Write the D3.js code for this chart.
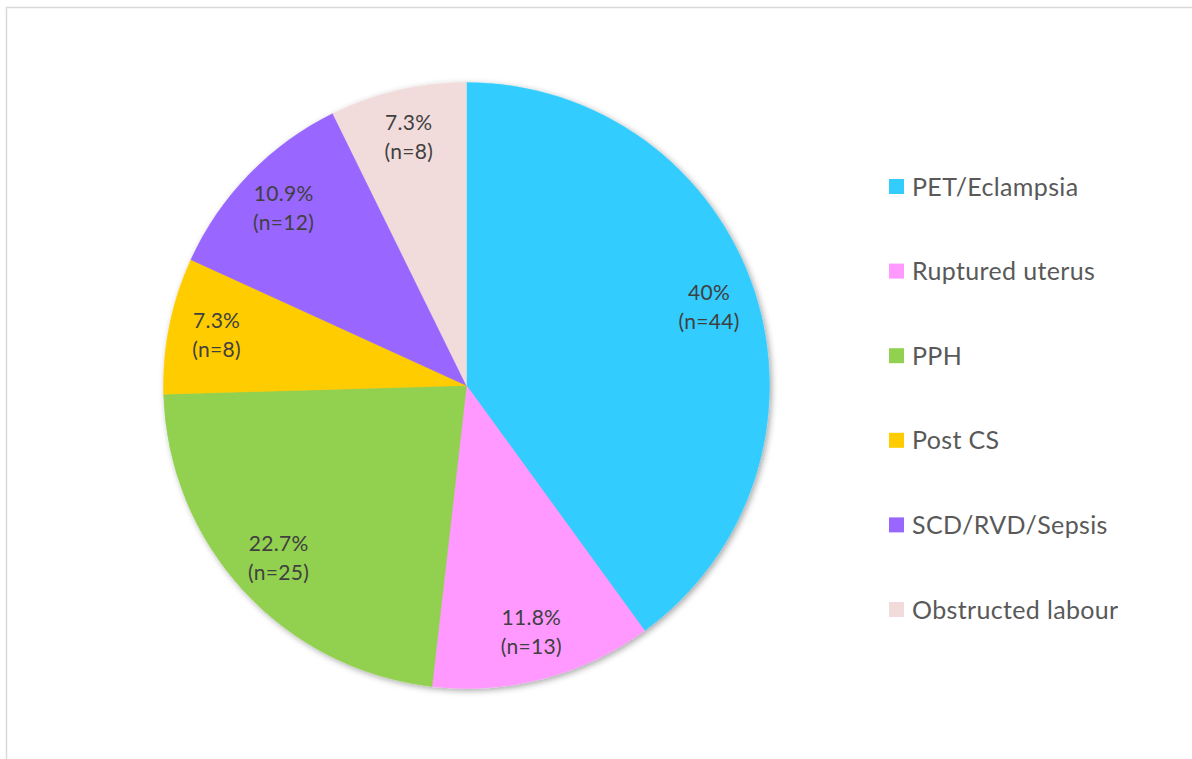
<!DOCTYPE html>
<html>
<head>
<meta charset="utf-8">
<script src="https://cdn.jsdelivr.net/npm/d3@7"></script>
<style>
  html, body { margin: 0; padding: 0; background: #fff; }
  svg { display: block; }
  text { font-family: Lato, "Open Sans", sans-serif; }
</style>
</head>
<body>
<svg width="1192" height="759"></svg>
<script>
// Causes of maternal death
var categories = ['PET/Eclampsia', 'Ruptured uterus', 'PPH', 'Post CS', 'SCD/RVD/Sepsis', 'Obstructed labour'];
var counts = [44, 13, 25, 8, 12, 8];
var percentLabels = ['40%', '11.8%', '22.7%', '7.3%', '10.9%', '7.3%'];
var colors = ['#33CCFF', '#FF99FF', '#92D050', '#FFCC00', '#9966FF', '#F2DCDB'];

var svg = d3.select('svg');
var svgWidth = +svg.attr('width');
var svgHeight = +svg.attr('height');

// chart frame (right and bottom edges fall outside the picture)
svg.append('rect')
    .attr('x', 6.5).attr('y', 7.5)
    .attr('width', svgWidth + 10).attr('height', svgHeight + 10)
    .attr('fill', '#fff')
    .attr('stroke', '#d9d9d9')
    .attr('stroke-width', 1.5);

// soft shadow for the pie
var defs = svg.append('defs');
var filt = defs.append('filter').attr('id', 'shadow')
    .attr('x', '-10%').attr('y', '-10%').attr('width', '120%').attr('height', '120%');
filt.append('feDropShadow')
    .attr('dx', 2).attr('dy', 2).attr('stdDeviation', 3)
    .attr('flood-color', '#000').attr('flood-opacity', 0.35);

var cx = 466.5, cy = 385.5, radius = 303;

var pieG = svg.append('g')
    .attr('transform', 'translate(' + [cx, cy] + ')');

var pie = d3.pie().sort(null).value(function(d) { return d; });
var arcs = pie(counts);

var arc = d3.arc().innerRadius(0).outerRadius(radius);
var labelArc = d3.arc().innerRadius(255).outerRadius(255);

var slices = pieG.append('g').attr('filter', 'url(#shadow)');
slices.selectAll('path')
    .data(arcs)
    .enter()
    .append('path')
    .attr('d', arc)
    .attr('fill', function(d, i) { return colors[i]; })
    .attr('stroke', function(d, i) { return colors[i]; })
    .attr('stroke-width', 0.5);

var labels = pieG.selectAll('.lbl')
    .data(arcs)
    .enter()
    .append('text')
    .attr('class', 'lbl')
    .attr('transform', function(d) { return 'translate(' + labelArc.centroid(d) + ')'; })
    .attr('text-anchor', 'middle')
    .attr('fill', '#404040')
    .style('font-size', '21px')
    .style('letter-spacing', '0.3px');

labels.append('tspan')
    .attr('x', 0).attr('y', -7)
    .text(function(d, i) { return percentLabels[i]; });
labels.append('tspan')
    .attr('x', 0).attr('y', 22)
    .text(function(d, i) { return '(n=' + counts[i] + ')'; });

// legend
var legendScale = d3.scalePoint()
    .domain(categories)
    .range([186.5, 609.5]);

var legend = svg.append('g');
var items = legend.selectAll('g')
    .data(categories)
    .enter()
    .append('g')
    .attr('transform', function(d) { return 'translate(' + [889, legendScale(d)] + ')'; });

items.append('rect')
    .attr('x', 0).attr('y', -7.5)
    .attr('width', 15).attr('height', 15)
    .attr('fill', function(d, i) { return colors[i]; });

items.append('text')
    .attr('x', 23).attr('y', 9)
    .attr('fill', '#595959')
    .style('font-size', '25px')
    .style('letter-spacing', '0.35px')
    .text(function(d) { return d; });
</script>
</body>
</html>
